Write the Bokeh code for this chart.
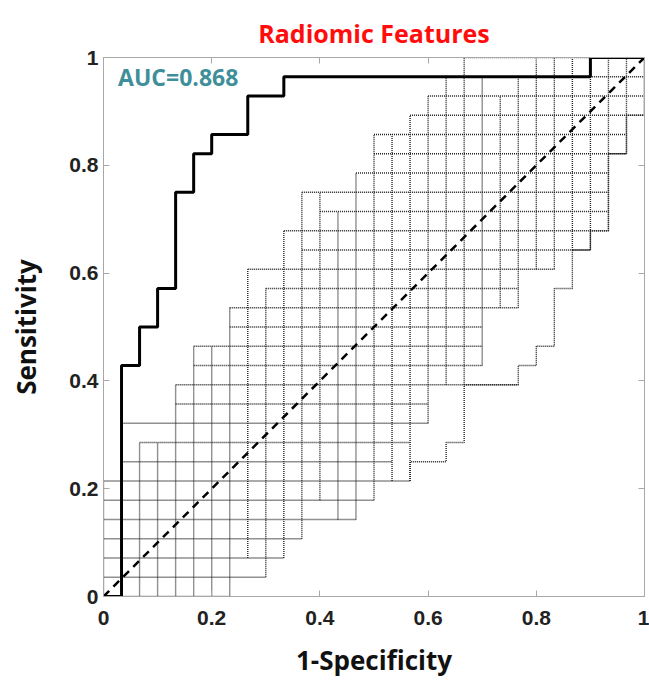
from bokeh.plotting import figure
from bokeh.models import (Range1d, LinearAxis, FixedTicker, Label, ColumnDataSource,
                          CustomLabelingPolicy)
from bokeh.embed import file_html
from bokeh.resources import INLINE

# ---- data ----
N_NEG = 30   # negatives (x steps)
N_POS = 28   # positives (y steps)

# main ROC curve (step counts)
roc_fp = [0, 1, 1, 2, 2, 3, 3, 4, 4, 5, 5, 6, 6, 8, 8, 10, 10, 27, 27, 30]
roc_tp = [0, 0, 12, 12, 14, 14, 16, 16, 21, 21, 23, 23, 24, 24, 26, 26, 27, 27, 28, 28]
auc_text = "AUC=0.868"
title_text = "Radiomic Features"

# permutation ROC curves (union drawn as grid segments)
# rows j = 0..28 : horizontal extent in x steps
row_start = [0, 0, 0, 0, 0, 0, 0, 1, 2, 1, 4, 4, 5, 5, 7, 7, 9, 8, 11, 10, 12, 11, 14, 15, 15, 17, 18, 19, 20]
row_end = [7, 9, 10, 11, 14, 15, 17, 16, 17, 18, 18, 23, 21, 21, 21, 23, 23, 25, 27, 28, 28, 28, 28, 29, 29, 30, 30, 30, 30]
# columns i = 0..30 : vertical extent in y steps
col_bottom = [0, 0, 0, 0, 0, 0, 0, 0, 2, 1, 2, 3, 5, 4, 4, 5, 6, 6, 9, 11, 11, 12, 15, 15, 17, 17, 18, 18, 19, 23, 25]
col_top = [6, 9, 8, 8, 11, 13, 13, 15, 17, 16, 19, 21, 21, 20, 22, 24, 24, 25, 26, 27, 28, 27, 26, 27, 28, 28, 28, 28, 28, 28, 28]
# lowest permutation curve
low_fp = [17, 17, 19, 19, 20, 20, 23, 23, 24, 24, 25, 25, 26, 26, 27, 27, 28, 28, 29, 29, 30, 30]
low_tp = [6, 7, 7, 8, 8, 11, 11, 12, 12, 13, 13, 16, 16, 18, 18, 19, 19, 23, 23, 25, 25, 28]

ticks = [0, 0.2, 0.4, 0.6, 0.8, 1]
tick_labels = ["0", "0.2", "0.4", "0.6", "0.8", "1"]

# ---- figure ----
FONT = "Open Sans"
TICK_FONT = "Liberation Sans"
p = figure(width=649, height=680, x_range=Range1d(0, 1), y_range=Range1d(0, 1),
           output_backend="svg", toolbar_location=None,
           min_border_left=103, min_border_right=5, min_border_top=57, min_border_bottom=82)
p.background_fill_color = "white"
p.border_fill_color = "white"
p.outline_line_color = "#a8a8a8"
p.xgrid.visible = False
p.ygrid.visible = False

# permutation grid
hx = [[row_start[j] / N_NEG, row_end[j] / N_NEG] for j in range(len(row_start))]
hy = [[j / N_POS, j / N_POS] for j in range(len(row_start))]
vx = [[i / N_NEG, i / N_NEG] for i in range(len(col_bottom))]
vy = [[col_bottom[i] / N_POS, col_top[i] / N_POS] for i in range(len(col_bottom))]
grid_src = ColumnDataSource(dict(xs=hx + vx, ys=hy + vy))
GRID_COLOR = "#222222"
p.multi_line(xs="xs", ys="ys", source=grid_src, line_color=GRID_COLOR,
             line_width=1.4, line_dash="1 1")
p.line([v / N_NEG for v in low_fp], [v / N_POS for v in low_tp],
       line_color=GRID_COLOR, line_width=1.4, line_dash="1 1")

# chance diagonal
p.line([0, 1], [0, 1], line_color="black", line_width=2.5, line_dash="8 6")

# main ROC
p.line([v / N_NEG for v in roc_fp], [v / N_POS for v in roc_tp],
       line_color="black", line_width=3)

# AUC label
p.add_layout(Label(x=0.027, y=0.963, text=auc_text, text_font=FONT,
                   text_font_style="bold", text_font_size="23px",
                   text_color="#3f8f9a", text_baseline="middle", text_align="left"))

# axes
overrides = {t: l for t, l in zip(ticks, tick_labels)}
for ax in (p.xaxis[0], p.yaxis[0]):
    ax.ticker = FixedTicker(ticks=ticks)
    ax.major_label_overrides = overrides
    ax.major_label_text_font = TICK_FONT
    ax.major_label_text_font_style = "bold"
    ax.major_label_text_font_size = "21px"
    ax.major_label_text_color = "#222222"
    ax.axis_label_text_font = FONT
    ax.axis_label_text_font_style = "bold"
    ax.axis_label_text_font_size = "26px"
    ax.axis_label_text_color = "#111111"
    ax.axis_line_color = "#a8a8a8"
    ax.major_tick_line_color = "#a8a8a8"
    ax.major_tick_in = 6
    ax.major_tick_out = 0
    ax.minor_tick_line_color = None
p.xaxis[0].axis_label = "1-Specificity"
p.yaxis[0].axis_label = "Sensitivity"
p.xaxis[0].major_label_standoff = 14
p.xaxis[0].axis_label_standoff = 14
p.yaxis[0].major_label_standoff = 5
p.yaxis[0].axis_label_standoff = 22

no_labels = CustomLabelingPolicy(code="return new Set()")
for loc in ("above", "right"):
    ax = LinearAxis(ticker=FixedTicker(ticks=ticks), major_label_policy=no_labels,
                    major_label_text_font_size="0px",
                    axis_line_color="#a8a8a8", major_tick_line_color="#a8a8a8",
                    major_tick_in=6, major_tick_out=0, minor_tick_line_color=None,
                    major_label_standoff=0)
    p.add_layout(ax, loc)

p.title.text = title_text
p.title.align = "center"
p.title.vertical_align = "middle"
p.title.text_color = "#ff0d0d"
p.title.text_font = FONT
p.title.text_font_style = "bold"
p.title.text_font_size = "25px"
p.title.standoff = 14

open("out.html", "w").write(file_html(p, INLINE))
